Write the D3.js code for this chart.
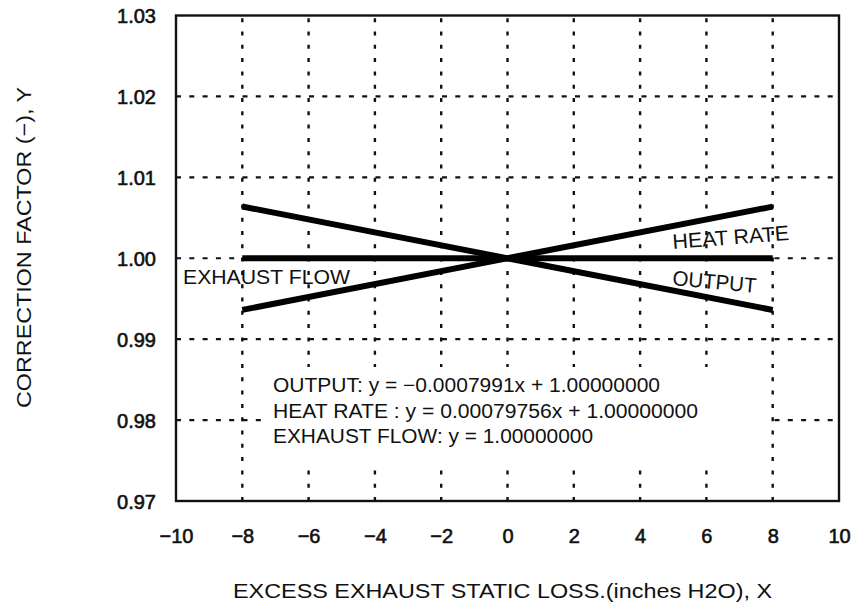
<!DOCTYPE html>
<html>
<head>
<meta charset="utf-8">
<script src="https://cdn.jsdelivr.net/npm/d3@7"></script>
<style>
  html, body { margin: 0; padding: 0; background: #fff; }
  svg { display: block; }
  text { font-family: "Liberation Sans", Arial, sans-serif; fill: #111; }
</style>
</head>
<body>
<svg id="chart" width="855" height="608"></svg>
<script>
// Excess exhaust static loss (inches H2O)
const xPoints = [-8, 8];
// Correction factors at the ends of each fitted line
const outputValues = [1.0063928, 0.9936072];
const heatRateValues = [0.99361952, 1.00638048];
const exhaustFlowValues = [1.0, 1.0];

const xTicks = [-10, -8, -6, -4, -2, 0, 2, 4, 6, 8, 10];
const yTicks = [0.97, 0.98, 0.99, 1.00, 1.01, 1.02, 1.03];
const yTickLabels = ["0.97", "0.98", "0.99", "1.00", "1.01", "1.02", "1.03"];

const equations = [
  "OUTPUT: y = \u22120.0007991x + 1.00000000",
  "HEAT RATE : y = 0.00079756x + 1.00000000",
  "EXHAUST FLOW: y = 1.00000000"
];

const svg = d3.select("#chart");
const plot = { left: 176, right: 839, top: 15.5, bottom: 501 };

const x = d3.scaleLinear().domain([-10, 10]).range([plot.left, plot.right]);
const y = d3.scaleLinear().domain([0.97, 1.03]).range([plot.bottom, plot.top]);

// Grid: dashed horizontals, dotted verticals
const grid = svg.append("g");
grid.selectAll("line.h")
  .data(yTicks.slice(1, -1))
  .join("line")
  .attr("x1", plot.left).attr("x2", plot.right)
  .attr("y1", d => y(d)).attr("y2", d => y(d))
  .attr("stroke", "#111").attr("stroke-width", 2.2)
  .attr("stroke-dasharray", "5,8.3");
grid.selectAll("line.v")
  .data(xTicks.slice(1, -1))
  .join("line")
  .attr("x1", d => x(d)).attr("x2", d => x(d))
  .attr("y1", plot.bottom).attr("y2", plot.top)
  .attr("stroke", "#111").attr("stroke-width", 2.4)
  .attr("stroke-dasharray", "4,9.3");

// White panel behind the equations
svg.append("rect")
  .attr("x", 267).attr("y", 367)
  .attr("width", 503).attr("height", 101)
  .attr("fill", "#fff");

// Frame
svg.append("rect")
  .attr("x", plot.left).attr("y", plot.top)
  .attr("width", plot.right - plot.left).attr("height", plot.bottom - plot.top)
  .attr("fill", "none").attr("stroke", "#111").attr("stroke-width", 2.4);

const fontFamily = "Liberation Sans, Arial, sans-serif";

// Tick labels via d3 axes (domain and tick lines hidden)
const xAxis = svg.append("g")
  .attr("transform", `translate(0,${plot.bottom})`)
  .call(d3.axisBottom(x).tickValues(xTicks).tickSize(0).tickPadding(0)
    .tickFormat(d => d < 0 ? "\u2212" + Math.abs(d) : String(d)));
xAxis.select(".domain").remove();
xAxis.selectAll("text")
  .attr("dy", null).attr("y", 42)
  .style("font-size", "20px").style("font-family", fontFamily)
  .attr("fill", "#111").attr("stroke", "#111").attr("stroke-width", 0.6);

const yAxis = svg.append("g")
  .attr("transform", `translate(${plot.left},0)`)
  .call(d3.axisLeft(y).tickValues(yTicks).tickSize(0).tickPadding(0)
    .tickFormat((d, i) => yTickLabels[i]));
yAxis.select(".domain").remove();
yAxis.selectAll("text")
  .attr("x", -20).attr("dy", "0.36em")
  .style("font-size", "20px").style("font-family", fontFamily)
  .attr("fill", "#111").attr("stroke", "#111").attr("stroke-width", 0.6);

// Data lines
const line = d3.line().x(d => x(d[0])).y(d => y(d[1]));
const series = [outputValues, heatRateValues, exhaustFlowValues];
svg.append("g").selectAll("path")
  .data(series)
  .join("path")
  .attr("d", vals => line(xPoints.map((xv, i) => [xv, vals[i]])))
  .attr("fill", "none").attr("stroke", "#000").attr("stroke-width", 6);

// Series labels
svg.append("text").text("EXHAUST FLOW")
  .attr("x", 183).attr("y", 284)
  .attr("textLength", 167).attr("lengthAdjust", "spacingAndGlyphs")
  .style("font-size", "21px");
svg.append("text").text("HEAT RATE")
  .attr("transform", "translate(673,249) rotate(-4.4)")
  .attr("textLength", 117).attr("lengthAdjust", "spacingAndGlyphs")
  .style("font-size", "21px");
svg.append("text").text("OUTPUT")
  .attr("transform", "translate(672,285) rotate(5.4)")
  .attr("textLength", 84).attr("lengthAdjust", "spacingAndGlyphs")
  .style("font-size", "21px");

// Equation text
const eqWidths = [387, 425, 320];
svg.append("g").selectAll("text")
  .data(equations)
  .join("text")
  .text(d => d)
  .attr("x", 273)
  .attr("y", (d, i) => 392 + i * 25.5)
  .attr("textLength", (d, i) => eqWidths[i]).attr("lengthAdjust", "spacingAndGlyphs")
  .style("font-size", "20px");

// Axis titles
svg.append("text").text("EXCESS EXHAUST STATIC LOSS.(inches H2O), X")
  .attr("x", 233).attr("y", 598)
  .attr("textLength", 539).attr("lengthAdjust", "spacingAndGlyphs")
  .style("font-size", "20px");
svg.append("text").text("CORRECTION FACTOR (\u2212), Y")
  .attr("transform", "translate(31,408) rotate(-90)")
  .attr("textLength", 321).attr("lengthAdjust", "spacingAndGlyphs")
  .style("font-size", "20px");
</script>
</body>
</html>
